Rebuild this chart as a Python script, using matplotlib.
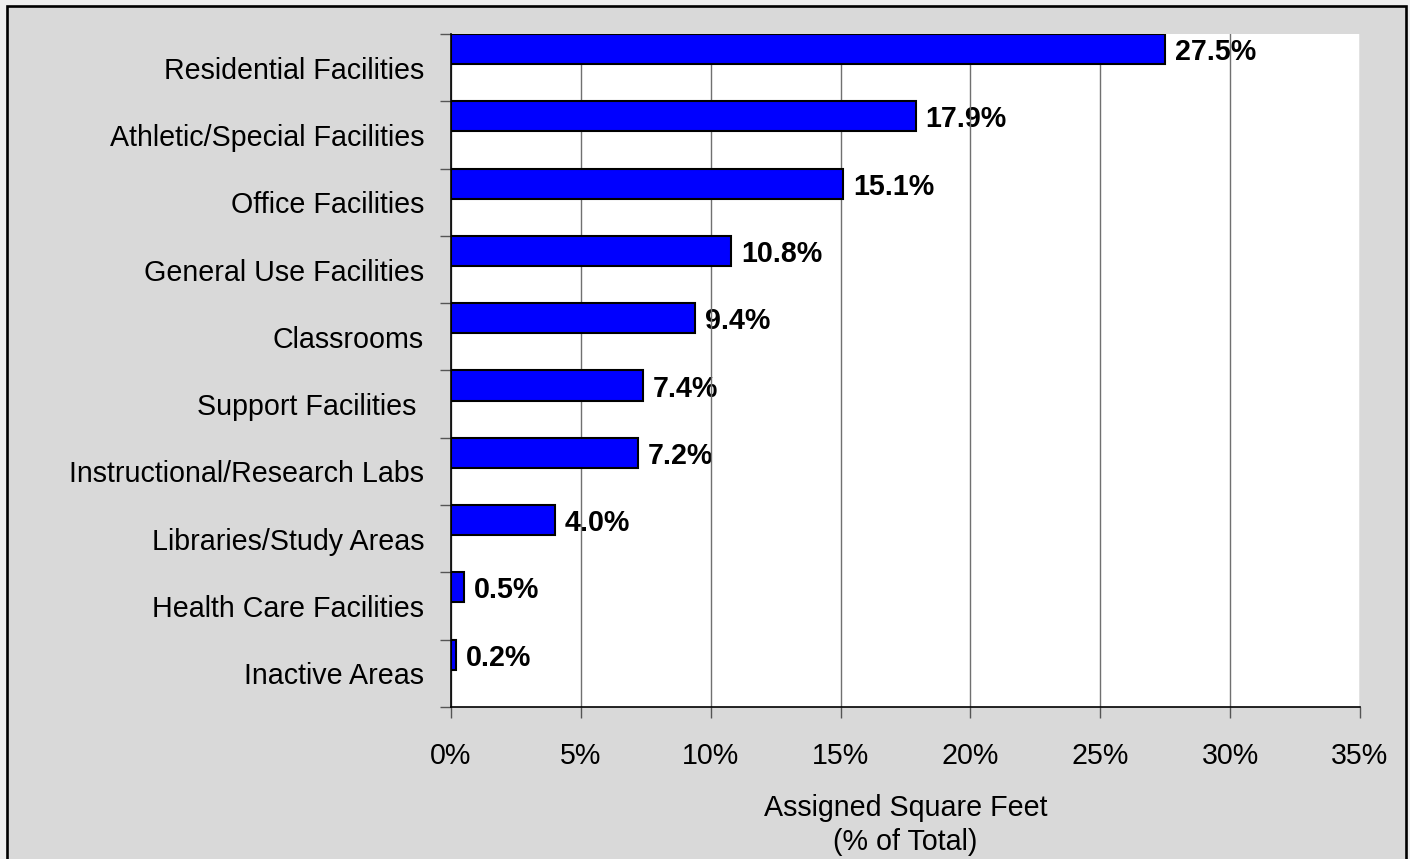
import numpy as np
import matplotlib
matplotlib.use("Agg")
import matplotlib.pyplot as plt
from matplotlib.patches import Rectangle
from matplotlib.ticker import FuncFormatter

plt.rcParams['font.family'] = ['Liberation Sans', 'DejaVu Sans']

# data, top to bottom
categories = ["Residential Facilities", "Athletic/Special Facilities", "Office Facilities",
              "General Use Facilities", "Classrooms", "Support Facilities ",
              "Instructional/Research Labs", "Libraries/Study Areas",
              "Health Care Facilities", "Inactive Areas"]
values = [27.5, 17.9, 15.1, 10.8, 9.4, 7.4, 7.2, 4.0, 0.5, 0.2]
xticks = [0, 5, 10, 15, 20, 25, 30, 35]

FS = 20.6

fig = plt.figure(figsize=(14.10, 8.59), dpi=100)
fig.patch.set_facecolor("#EEEEEE")
# grey chart area with black frame (bottom edge runs off the image)
fig.add_artist(Rectangle((6.5/1410, -10/859), 1399/1410, 863/859, transform=fig.transFigure,
                         facecolor="#D9D9D9", edgecolor="black", lw=1.9, zorder=-10))

ax = fig.add_axes([451/1410, 152/859, 909/1410, 673/859])
ax.set_facecolor("white")

n = len(categories)
idx = np.arange(n)
# bars sit in the upper part of each slot
ax.barh(idx - 0.5, values, height=0.446, align="edge", color="#0000FF",
        edgecolor="black", lw=1.5, zorder=3)

for i, v in enumerate(values):
    ax.annotate(f"{v:.1f}%", (v, i - 0.5 + 0.223), xytext=(7, 0), textcoords="offset points",
                va="center_baseline", ha="left", fontsize=FS, fontweight="bold", zorder=0.5)

ax.set_xlim(0, 35)
ax.set_ylim(n - 0.5, -0.5)
ax.set_xticks(xticks)
ax.xaxis.set_major_formatter(FuncFormatter(lambda x, p: f"{x:.0f}%"))
ax.grid(axis="x", color="#707070", lw=1, zorder=1)

ax.set_yticks(np.arange(n + 1) - 0.5)
ax.set_yticklabels([])
ax.set_yticks(idx, minor=True)
ax.set_yticklabels(categories, minor=True)
ax.tick_params(axis="y", which="major", length=8, width=1, direction="out", color="#555555")
ax.tick_params(axis="y", which="minor", length=0, pad=19.4, labelsize=FS)
ax.tick_params(axis="x", length=8, width=1, direction="out", pad=17.3, labelsize=FS,
               color="#555555")

for s in ["top", "right"]:
    ax.spines[s].set_visible(False)
for s in ["left", "bottom"]:
    ax.spines[s].set_linewidth(1.2)
    ax.spines[s].set_zorder(5)

ax.set_xlabel("Assigned Square Feet\n(% of Total)", fontsize=FS, linespacing=1.28)
ax.xaxis.set_label_coords(0.5, -87/673)

fig.savefig("out.png", dpi=100)
